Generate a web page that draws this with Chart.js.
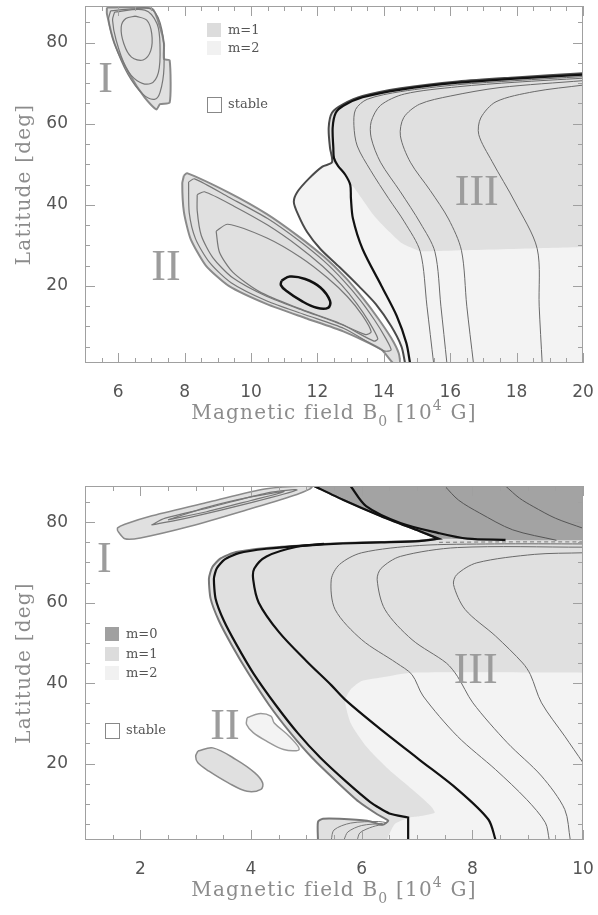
<!DOCTYPE html>
<html>
<head>
<meta charset="utf-8">
<script src="https://cdn.jsdelivr.net/npm/chart.js@4.4.1/dist/chart.umd.min.js"></script>
<style>
  body { margin: 0; background: #fff; }
  .box { position: absolute; left: 0; width: 598px; }
  #top { top: 0; height: 440px; }
  #bot { top: 460px; height: 455px; }
</style>
</head>
<body>
<div class="box" id="top"><canvas id="chartTop"></canvas></div>
<div class="box" id="bot"><canvas id="chartBot"></canvas></div>
<script>
// tick labels
const topXTicks = [6, 8, 10, 12, 14, 16, 18, 20];
const botXTicks = [2, 4, 6, 8, 10];
const latTicks = [20, 40, 60, 80];

// ---- upper panel: instability regions, B0 in 1e4 G vs latitude ----
const topRegionI = [[5.66,88.6],[6.1,88.7],[7.03,88.3],[7.26,83.8],[7.38,79.7],[7.38,75.9],[7.55,75.6],[7.55,65.2],[7.26,64.8],[7.15,63.5],[6.8,66.4],[6.34,72.2],[5.89,79.7],[5.66,87.1],[5.66,88.6]];
const topILoops = [
  [[5.77,87.8],[6.4,88.3],[7.03,88.1],[7.32,83.0],[7.38,73.9],[7.26,67.7],[7.09,66.0],[6.75,67.2],[6.29,72.2],[5.89,79.7],[5.71,85.5],[5.77,87.8]],
  [[5.89,87.5],[6.8,88.0],[7.17,84.6],[7.26,78.8],[7.21,72.6],[6.98,69.9],[6.57,70.6],[6.23,73.9],[5.94,80.5],[5.83,85.5],[5.89,87.5]],
  [[6.52,86.5],[6.86,85.5],[7.01,82.2],[6.98,78.0],[6.75,75.7],[6.40,76.4],[6.17,79.7],[6.09,83.8],[6.23,85.9],[6.52,86.5]]
];
const topRegionII = [[7.98,47.2],[8.07,47.8],[9.33,43.0],[10.48,37.7],[11.40,32.4],[12.21,27.1],[12.84,22.1],[13.36,17.1],[13.82,12.1],[14.22,7.2],[14.45,3.4],[14.48,1],[14.28,1],[13.93,4.3],[12.78,8.8],[11.63,12.1],[10.48,15.5],[9.33,20.0],[8.64,25.0],[8.18,31.6],[7.98,38.2],[7.93,45.3],[7.98,47.2]];
const topIILoops = [
  [[8.12,45.6],[8.3,46.4],[9.35,41.8],[10.5,36.6],[11.42,31.3],[12.2,26.1],[12.8,21.2],[13.3,16.4],[13.72,11.6],[14.05,7.2],[14.22,4.2],[14.0,4.0],[12.8,9.5],[11.63,12.9],[10.48,16.3],[9.4,20.8],[8.75,25.8],[8.33,31.6],[8.14,38.0],[8.12,45.6]],
  [[8.38,42.5],[8.6,43.2],[9.5,39.6],[10.5,35.0],[11.42,29.8],[12.15,24.9],[12.72,20.3],[13.18,15.7],[13.55,11.2],[13.82,7.0],[13.7,6.4],[12.78,10.3],[11.63,13.8],[10.48,17.4],[9.45,22.0],[8.85,27.0],[8.5,32.5],[8.38,38.5],[8.38,42.5]],
  [[8.95,33.5],[9.3,35.2],[10.48,31.8],[11.5,27.0],[12.3,22.0],[12.9,17.4],[13.35,12.8],[13.62,8.7],[13.45,8.0],[12.55,11.2],[11.4,14.6],[10.25,18.6],[9.45,23.4],[9.05,28.3],[8.95,33.5]]
];
const topCore = [[10.92,21.3],[11.17,22.3],[11.63,21.7],[12.09,19.6],[12.38,16.3],[12.32,14.6],[11.98,14.6],[11.52,16.3],[11.06,18.8],[10.90,20.2],[10.92,21.3]];
const topIIIEdge = [[14.64,1],[14.53,5.1],[14.22,10.1],[13.76,15.5],[13.24,20.0],[12.67,24.6],[12.09,29.1],[11.69,33.3],[11.43,37.4],[11.29,40.7],[11.40,43.2],[11.75,46.5],[12.15,49.4],[12.44,50.5],[12.38,54.0],[12.34,59.0],[12.44,62.7],[12.78,64.8],[13.36,66.8],[14.51,68.7],[16.23,70.4],[17.95,71.4],[20,72.4]];
const topIIIm1 = [[12.34,59],[12.44,62.7],[12.78,64.8],[13.36,66.8],[14.51,68.7],[16.23,70.4],[17.95,71.4],[20,72.4],[20,72.4],[20,29.6],[20,29.6],[15.1,28.5],[15.1,28.5],[14.55,30.5],[13.74,37.0],[13.09,44.4],[12.99,44.9],[12.84,47.4],[12.62,49.6],[12.44,50.5],[12.38,54.0],[12.34,59]];
const topThick = [[20,72.1],[17.95,71.1],[16.23,70.1],[14.51,68.4],[13.36,66.5],[12.78,64.4],[12.55,62.6],[12.46,59],[12.48,54],[12.5,51.5],[12.62,49.6],[12.84,47.4],[12.99,44.9],[13.01,41.6],[13.07,36.6],[13.36,29.1],[13.93,20.0],[14.39,12.6],[14.68,5.9],[14.79,1]];
const topContours = [
  [[20,71.6],[17.95,70.6],[16.23,69.6],[14.51,67.9],[13.5,66.0],[13.15,63.5],[13.1,59.5],[13.2,54.5],[13.6,48.5],[14.15,41.5],[14.62,35.8],[15.10,28.4],[15.3,15.0],[15.5,1]],
  [[20,71.2],[17.95,70.2],[16.23,69.1],[14.62,67.3],[13.9,64.5],[13.62,60.5],[13.62,56.5],[13.9,50.5],[14.5,43.2],[15.1,35.5],[15.54,28.4],[15.72,15],[15.9,1]],
  [[20,70.6],[17.5,68.9],[16.0,66.8],[15.08,64.8],[14.6,61.5],[14.5,57.0],[14.8,50.5],[15.4,43.5],[15.95,36.5],[16.34,28.7],[16.50,15],[16.7,1]],
  [[20,69.5],[18.53,67.9],[17.38,65.4],[16.92,61.4],[16.86,57.3],[17.26,50.7],[17.95,40.7],[18.62,29.2],[18.68,15],[18.77,1]]
];

// ---- lower panel ----
const botRegionI = [[1.59,77.8],[1.72,75.9],[2.0,76.1],[2.90,79.0],[3.93,83.1],[4.83,86.9],[5.1,88.6],[4.97,89],[4.28,88.3],[3.24,85.0],[2.21,81.6],[1.72,79.5],[1.59,78.6],[1.59,77.8]];
const botILoops = [
  [[2.2,79.3],[2.9,81.2],[3.93,84.6],[4.83,88.0],[4.3,87.3],[3.24,83.6],[2.45,81.0],[2.2,79.3]],
  [[2.5,80.6],[3.2,82.6],[4.0,85.4],[4.6,87.6],[4.0,86.3],[3.2,83.7],[2.5,80.6]]
];
const botBlobA = [[3.04,23.1],[3.31,23.9],[3.73,21.0],[4.07,17.7],[4.21,15.2],[4.18,13.6],[3.93,13.1],[3.59,15.2],[3.24,18.1],[3.04,20.2],[3.0,21.8],[3.04,23.1]];
const botBlobB = [[3.93,31.4],[4.14,32.4],[4.36,31.8],[4.42,30.1],[4.69,26.8],[4.87,23.5],[4.59,23.5],[4.28,25.6],[4.04,27.7],[3.92,29.7],[3.93,31.4]];
const botMainEdge = [[5.14,89],[5.66,85.6],[6.35,81.5],[7.04,77.8],[7.39,75.9],[7.39,75.9],[7.04,75.4],[6.35,75.1],[5.66,74.8],[4.97,74.3],[4.28,73.6],[3.73,72.6],[3.45,71.0],[3.30,68.8],[3.24,66.0],[3.27,61.0],[3.42,55.5],[3.65,49.5],[3.95,42.5],[4.33,34.5],[4.72,27.5],[5.1,21.5],[5.55,15.5],[5.95,10.5],[6.28,7.4],[6.48,5.8],[6.38,4.8],[6.1,5.8],[5.6,6.3],[5.3,6.3],[5.21,5.5],[5.21,1]];
const botM0 = [[5.14,89],[5.14,89],[5.66,85.6],[6.35,81.5],[7.04,77.8],[7.39,75.9],[7.39,75.9],[8.5,75.6],[10,75.5],[10,75.5],[10,89],[10,89],[5.14,89]];
const botM2 = [[10,42.6],[10,42.6],[6.9,42.6],[6.35,41.4],[6.0,40.5],[5.80,38.4],[5.70,35.6],[5.80,30.1],[6.08,24.3],[6.49,18.5],[6.91,13.6],[7.25,9.4],[7.32,7.8],[7.04,6.9],[6.87,6.6],[6.6,5.0],[6.45,1],[6.45,1],[10,1],[10,1],[10,42.6]];
const botLineB = [[5.14,89],[5.66,85.6],[6.35,81.5],[7.04,77.8],[7.39,75.9],[7.39,75.9],[7.04,75.3],[6.35,75.0],[5.66,74.7],[4.97,74.2],[4.28,73.4],[3.78,72.3],[3.52,70.7],[3.38,68.5],[3.33,66.0],[3.36,61.0],[3.51,55.5],[3.74,49.5],[4.04,42.5],[4.45,34.5],[4.85,27.5],[5.25,21.5],[5.72,15.5],[6.15,10.5],[6.5,7.6],[6.84,6.6],[6.84,6.6],[6.84,1]];
const botLineC = [[5.32,74.6],[4.83,73.9],[4.28,71.5],[4.06,68.5],[4.04,65.7],[4.14,60],[4.51,52.6],[5.0,45.5],[5.45,39.5],[5.70,35.9],[6.3,29.0],[7.04,21.0],[7.73,13.6],[8.29,6.1],[8.42,1]];
const botLineD = [[5.80,89],[6.08,84.0],[6.70,79.8],[7.39,77.3],[7.91,75.9],[8.6,75.6]];
const botM0Contours = [
  [[7.50,89],[7.75,85.5],[8.13,82.3],[8.73,78.1],[9.52,75.5]],
  [[8.60,89],[8.85,86],[9.10,83.9],[9.5,81],[10,78.5]]
];
const botContours = [
  [[10,74.6],[8.4,74.6],[7.04,74.2],[6.0,72.4],[5.6,69.5],[5.45,65.7],[5.52,58.3],[6.0,50.8],[6.63,45.0],[6.91,42.1],[7.11,36.8],[7.73,26.8],[8.42,18.5],[8.98,11.1],[9.32,5.3],[9.39,1]],
  [[10,73.8],[7.73,73.7],[6.70,71.5],[6.35,68.5],[6.28,65.7],[6.42,58.3],[6.91,50.8],[7.53,45.0],[7.73,41.7],[8.01,35.1],[8.63,25.2],[9.25,16.9],[9.67,8.6],[9.77,1]],
  [[10,72.4],[9.12,72.0],[8.08,69.9],[7.72,67.0],[7.66,64.5],[7.87,58.3],[8.42,51.7],[8.91,45.0],[9.05,42.1],[9.25,35.1],[9.67,26.8],[10,20.2]]
];
const botFoot = [
  [[5.45,1],[5.5,3.5],[5.8,5.2],[6.3,5.6],[6.45,5.3]],
  [[5.68,1],[5.75,3.0],[6.0,4.6],[6.38,5.1]],
  [[5.92,1],[5.97,2.8],[6.2,4.3],[6.4,4.9]]
];
const botDash = [[7.4,75.0],[8.5,75.1],[10,75.1]];

const M0 = '#a3a3a3', M1 = '#e0e0e0', M2 = '#f3f3f3';

function pts(a) { return a.map(p => ({ x: p[0], y: p[1] })); }
function area(a, color, order) {
  return { data: pts(a), showLine: true, fill: 'shape', backgroundColor: color,
    borderColor: 'rgba(0,0,0,0)', borderWidth: 1, pointRadius: 0, tension: 0.2, order };
}
function curve(a, color, width, order, extra) {
  return Object.assign({ data: pts(a), showLine: true, fill: false, borderColor: color,
    borderWidth: width, pointRadius: 0, tension: 0.3, order }, extra || {});
}

function framePlugin(cfg) {
  return {
    id: 'frame',
    afterDatasetsDraw(chart) {
      const { ctx, chartArea: a } = chart;
      const xs = chart.scales.x, ys = chart.scales.y;
      ctx.save();
      // roman region names
      ctx.fillStyle = '#9c9c9c';
      ctx.font = '44px "Liberation Serif"';
      ctx.textAlign = 'center';
      ctx.textBaseline = 'middle';
      cfg.names.forEach(n => ctx.fillText(n[0], xs.getPixelForValue(n[1]), ys.getPixelForValue(n[2])));
      // key
      ctx.font = '13px "DejaVu Serif"';
      ctx.textAlign = 'left';
      cfg.key.forEach(k => {
        const x = a.left + cfg.keyX, y = a.top + k[2];
        if (k[1]) {
          ctx.fillStyle = k[1];
          ctx.fillRect(x, y, 14, 14);
        } else {
          ctx.strokeStyle = '#888';
          ctx.lineWidth = 1;
          ctx.strokeRect(x + 0.5, y + 0.5, 14, 15);
        }
        ctx.fillStyle = '#555';
        ctx.fillText(k[0], x + 21, y + 8);
      });
      // frame and inward ticks
      ctx.strokeStyle = '#a0a0a0';
      ctx.lineWidth = 1;
      ctx.strokeRect(a.left + 0.5, a.top + 0.5, a.width - 1, a.height - 1);
      ctx.beginPath();
      for (let v = cfg.xMin; v <= cfg.xMax + 1e-9; v += 0.5) {
        const px = Math.round(xs.getPixelForValue(v)) + 0.5;
        const len = cfg.xMajor.includes(v) ? 10 : 5;
        ctx.moveTo(px, a.bottom); ctx.lineTo(px, a.bottom - len);
        ctx.moveTo(px, a.top); ctx.lineTo(px, a.top + len);
      }
      for (let v = 5; v <= 85; v += 5) {
        const py = Math.round(ys.getPixelForValue(v)) + 0.5;
        const len = v % 20 === 0 ? 10 : 5;
        ctx.moveTo(a.left, py); ctx.lineTo(a.left + len, py);
        ctx.moveTo(a.right, py); ctx.lineTo(a.right - len, py);
      }
      ctx.stroke();
      ctx.restore();
    },
    afterDraw(chart) {
      const { ctx, chartArea: a } = chart;
      ctx.save();
      ctx.fillStyle = '#8c8c8c';
      ctx.letterSpacing = '1.2px';
      const big = '20px "DejaVu Serif"', small = '14px "DejaVu Serif"';
      const parts = [['Magnetic field B', big, 0], ['0', small, 8], [' [10', big, 0], ['4', small, -8], [' G]', big, 0]];
      let w = 0;
      parts.forEach(p => { ctx.font = p[1]; w += ctx.measureText(p[0]).width; });
      let x = (a.left + a.right) / 2 - w / 2;
      const y = a.bottom + 51;
      ctx.textBaseline = 'middle';
      ctx.textAlign = 'left';
      parts.forEach(p => { ctx.font = p[1]; ctx.fillText(p[0], x, y + p[2]); x += ctx.measureText(p[0]).width; });
      ctx.translate(25, (a.top + a.bottom) / 2);
      ctx.rotate(-Math.PI / 2);
      ctx.font = big;
      ctx.textAlign = 'center';
      ctx.fillText('Latitude [deg]', 0, 0);
      ctx.restore();
    }
  };
}

function options(xMin, xMax, xTicks, padTop, axisH) {
  return {
    responsive: true, maintainAspectRatio: false, animation: false, events: [],
    layout: { padding: { top: padTop, right: 15, left: 0, bottom: 0 } },
    plugins: { legend: { display: false }, tooltip: { enabled: false } },
    scales: {
      x: {
        type: 'linear', min: xMin, max: xMax,
        grid: { display: false }, border: { display: false },
        afterBuildTicks: s => { s.ticks = xTicks.map(v => ({ value: v })); },
        afterFit: s => { s.height = axisH; s.paddingLeft = 0; s.paddingRight = 0; },
        ticks: { padding: 11, color: '#555', font: { family: 'DejaVu Sans', size: 17 }, maxRotation: 0, autoSkip: false }
      },
      y: {
        type: 'linear', min: 1, max: 89,
        grid: { display: false }, border: { display: false },
        afterBuildTicks: s => { s.ticks = latTicks.map(v => ({ value: v })); },
        afterFit: s => { s.width = 85; s.paddingTop = 0; s.paddingBottom = 0; },
        ticks: { padding: 9, color: '#555', font: { family: 'DejaVu Sans', size: 17 }, autoSkip: false }
      }
    }
  };
}

const topSets = [
  curve(topCore, '#111', 2.5, 1, { tension: 0.4 }),
  curve(topThick, '#111', 2.2, 2),
  ...topContours.map(c => curve(c, '#6a6a6a', 1, 3)),
  ...topIILoops.map(c => curve(c, '#777', 1.2, 3, { tension: 0.25 })),
  ...topILoops.map(c => curve(c, '#777', 1.2, 3, { tension: 0.35 })),
  curve(topIIIEdge, '#4a4a4a', 2, 4),
  curve(topRegionII, '#8a8a8a', 2, 4, { tension: 0.2 }),
  curve(topRegionI, '#8a8a8a', 2, 4, { tension: 0.2 }),
  area(topRegionI, M1, 20),
  area(topRegionII, M1, 20),
  area(topIIIm1, M1, 30),
  area([...topIIIEdge, [20, 72.4], [20, 1], [20, 1], [14.64, 1], [14.64, 1]], M2, 40)
];

const botSets = [
  curve(botLineB, '#111', 2.2, 1, { tension: 0.2 }),
  curve(botLineC, '#111', 2.2, 1),
  curve(botLineD, '#111', 2.2, 1),
  ...botContours.map(c => curve(c, '#6a6a6a', 1, 3)),
  ...botM0Contours.map(c => curve(c, '#555', 1, 3)),
  ...botFoot.map(c => curve(c, '#777', 1, 3)),
  curve(botDash, '#777', 1, 3, { borderDash: [4, 3] }),
  ...botILoops.map(c => curve(c, '#777', 1.2, 3, { tension: 0.3 })),
  curve(botMainEdge, '#777', 2, 4, { tension: 0.2 }),
  curve(botRegionI, '#8a8a8a', 1.5, 4, { tension: 0.3 }),
  curve(botBlobA, '#8a8a8a', 1.5, 4, { tension: 0.35 }),
  curve(botBlobB, '#999', 1.5, 4, { tension: 0.35 }),
  area(botRegionI, M1, 20),
  area(botBlobA, M1, 20),
  area(botBlobB, M2, 20),
  area(botM0, M0, 25),
  area(botM2, M2, 30),
  area([...botMainEdge, [5.21, 1], [10, 1], [10, 1], [10, 89], [10, 89], [5.14, 89]], M1, 40)
];

new Chart(document.getElementById('chartTop'), {
  type: 'scatter',
  data: { datasets: topSets },
  options: options(5, 20, topXTicks, 6, 77),
  plugins: [framePlugin({
    xMin: 5, xMax: 20, xMajor: topXTicks, keyX: 122,
    names: [['I', 5.62, 70.6], ['II', 7.44, 24.2], ['III', 16.8, 42.8]],
    key: [['m=1', '#dcdcdc', 17], ['m=2', '#f1f1f1', 35], ['stable', null, 91]]
  })]
});

new Chart(document.getElementById('chartBot'), {
  type: 'scatter',
  data: { datasets: botSets },
  options: options(1, 10, botXTicks, 26, 75),
  plugins: [framePlugin({
    xMin: 1, xMax: 10, xMajor: botXTicks, keyX: 20,
    names: [['I', 1.35, 70.6], ['II', 3.53, 28.9], ['III', 8.06, 43]],
    key: [['m=0', '#a0a0a0', 141], ['m=1', '#dcdcdc', 161], ['m=2', '#f1f1f1', 180], ['stable', null, 237]]
  })]
});
</script>
</body>
</html>
